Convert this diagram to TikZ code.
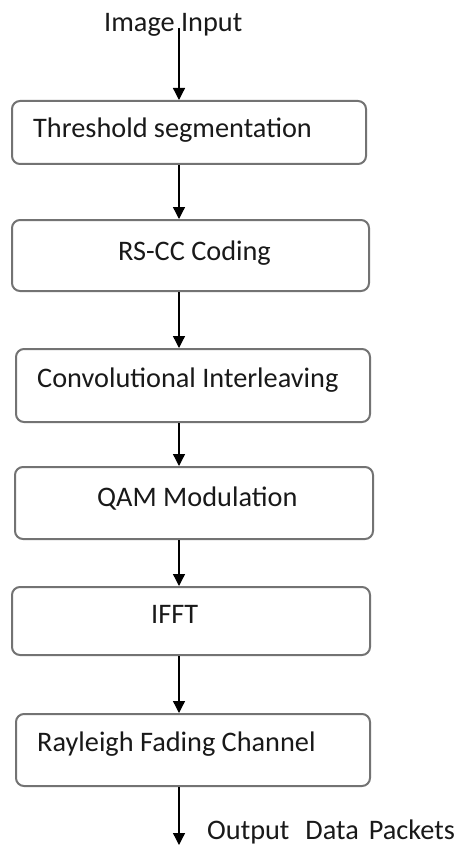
\documentclass[tikz,border=0pt]{standalone}
\usepackage{fontspec}
\setmainfont{Carlito}
\usetikzlibrary{arrows.meta}
\begin{document}
\begin{tikzpicture}[x=1pt,y=-1pt,
  stage/.style={draw=black!55, line width=2pt, rounded corners=8pt, inner sep=0pt},
  lbl/.style={anchor=base west, inner sep=0pt, font=\fontsize{28.3}{32}\selectfont, text=black!90},
  flow/.style={draw=black, line width=1.3pt, -{Triangle[width=12pt,length=12pt]}}]
\useasboundingbox (0,0) rectangle (460,845);

% processing stages
\node[stage, minimum width=354pt, minimum height=63pt] (b1) at (189,132.5) {};
\node[stage, minimum width=357pt, minimum height=71pt] (b2) at (190.5,255.5) {};
\node[stage, minimum width=354pt, minimum height=73pt] (b3) at (193,385.5) {};
\node[stage, minimum width=358pt, minimum height=72pt] (b4) at (194,503) {};
\node[stage, minimum width=358pt, minimum height=68pt] (b5) at (191,621) {};
\node[stage, minimum width=354pt, minimum height=72pt] (b6) at (193,750) {};

% labels
\node[lbl] (t0) at (104,32) {Image Input};
\node[lbl] (t1) at (33,138) {Threshold segmentation};
\node[lbl] (t2) at (118,260) {RS-CC Coding};
\node[lbl] (t3) at (37,387) {Convolutional Interleaving};
\node[lbl] (t4) at (97,506) {QAM Modulation};
\node[lbl] (t5) at (151,623) {IFFT};
\node[lbl] (t6) at (37,751) {Rayleigh Fading Channel};
\node[lbl] (t7) at (207,839) {Output\hspace{16pt}Data\hspace{10pt}Packets};

% signal path
\coordinate (src) at (179,28);
\coordinate (sink) at (179,845);
\draw[flow] (src) -- (src |- b1.north);
\draw[flow] (b1.south -| src) -- (b2.north -| src);
\draw[flow] (b2.south -| src) -- (b3.north -| src);
\draw[flow] (b3.south -| src) -- (b4.north -| src);
\draw[flow] (b4.south -| src) -- (b5.north -| src);
\draw[flow] (b5.south -| src) -- (b6.north -| src);
\draw[flow] (b6.south -| src) -- (sink);
\end{tikzpicture}
\end{document}
